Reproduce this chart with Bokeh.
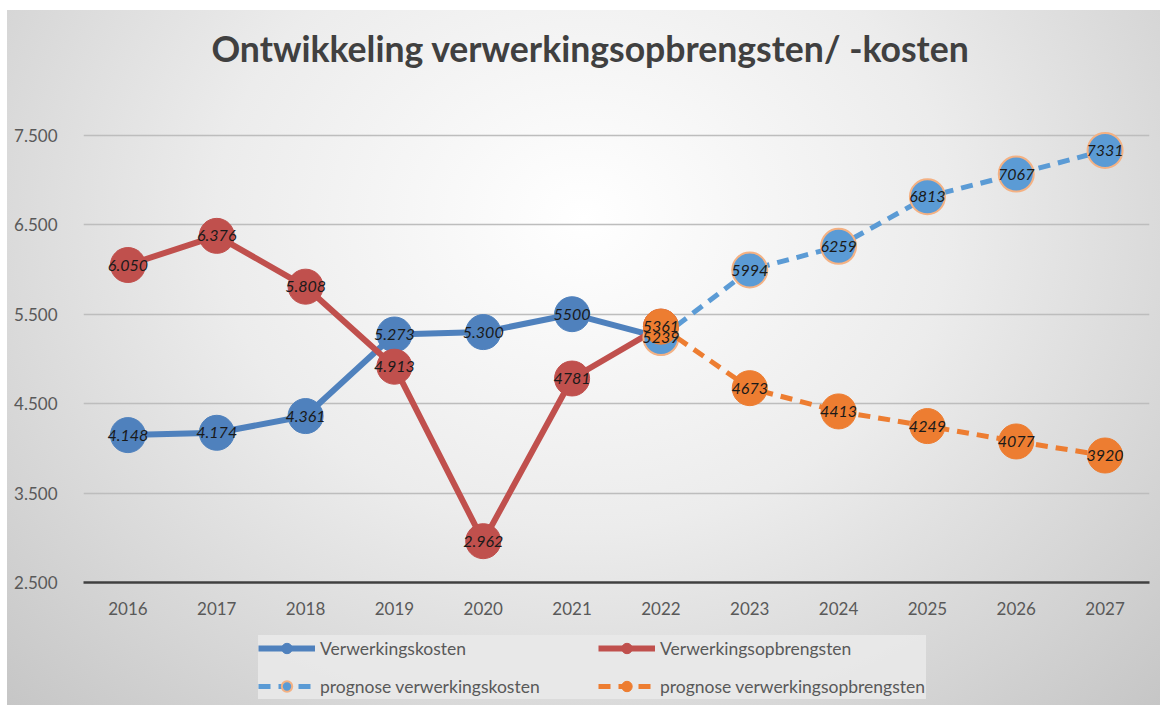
from bokeh.plotting import figure
from bokeh.layouts import column
from bokeh.models import (ColumnDataSource, FactorRange, Range1d, FixedTicker, Legend,
                          LegendItem, Label)
from bokeh.embed import file_html
from bokeh.resources import INLINE
from bokeh.core.properties import value

title_text = "Ontwikkeling verwerkingsopbrengsten/ -kosten"
years = ["2016", "2017", "2018", "2019", "2020", "2021", "2022", "2023", "2024", "2025", "2026", "2027"]

kosten_years = ["2016", "2017", "2018", "2019", "2020", "2021", "2022"]
kosten = [4148, 4174, 4361, 5273, 5300, 5500, 5239]
kosten_labels = ["4.148", "4.174", "4.361", "5.273", "5.300", "5500", ""]

opbr_years = ["2016", "2017", "2018", "2019", "2020", "2021", "2022"]
opbr = [6050, 6376, 5808, 4913, 2962, 4781, 5361]
opbr_labels = ["6.050", "6.376", "5.808", "4.913", "2.962", "4781", ""]

prog_years = ["2022", "2023", "2024", "2025", "2026", "2027"]
prog_kosten = [5239, 5994, 6259, 6813, 7067, 7331]
prog_kosten_labels = ["5239", "5994", "6259", "6813", "7067", "7331"]
prog_opbr = [5361, 4673, 4413, 4249, 4077, 3920]
prog_opbr_labels = ["5361", "4673", "4413", "4249", "4077", "3920"]

y_ticks = [2500, 3500, 4500, 5500, 6500, 7500]
y_tick_labels = ["2.500", "3.500", "4.500", "5.500", "6.500", "7.500"]

series_names = ["Verwerkingskosten", "Verwerkingsopbrengsten",
                "prognose verwerkingskosten", "prognose verwerkingsopbrengsten"]

FONT = "Lato"
BLUE = "#4f81bd"
RED = "#c0504d"
PBLUE = "#5b9bd5"
ORANGE = "#ed7d31"
RING = "#f4b183"

src_k = ColumnDataSource(dict(x=kosten_years, y=kosten, label=kosten_labels))
src_o = ColumnDataSource(dict(x=opbr_years, y=opbr, label=opbr_labels))
src_pk = ColumnDataSource(dict(x=prog_years, y=prog_kosten, label=prog_kosten_labels))
src_po = ColumnDataSource(dict(x=prog_years, y=prog_opbr, label=prog_opbr_labels))

x_range = FactorRange(*years)


def add_series(fig):
    r = []
    r.append(fig.line("x", "y", source=src_k, line_color=BLUE, line_width=6))
    r.append(fig.scatter("x", "y", source=src_k, size=35, fill_color=BLUE, line_color=BLUE))
    r.append(fig.line("x", "y", source=src_o, line_color=RED, line_width=6))
    r.append(fig.scatter("x", "y", source=src_o, size=35, fill_color=RED, line_color=RED))
    r.append(fig.line("x", "y", source=src_pk, line_color=PBLUE, line_width=5, line_dash="12 8"))
    r.append(fig.scatter("x", "y", source=src_pk, size=35, fill_color=PBLUE, line_color=RING, line_width=2))
    r.append(fig.line("x", "y", source=src_po, line_color=ORANGE, line_width=5, line_dash="12 8"))
    r.append(fig.scatter("x", "y", source=src_po, size=35, fill_color=ORANGE, line_color=ORANGE))
    return r


# ---------- main chart (frame extends to the top so the title can sit inside it)
p = figure(x_range=x_range, y_range=Range1d(2500, 8896),
           width=1153, height=615, output_backend="svg", toolbar_location=None,
           min_border_left=76, min_border_right=11, min_border_top=0, min_border_bottom=43)
p.border_fill_color = None
p.background_fill_color = None
p.outline_line_color = None

p.add_layout(Label(x=507, y=534, x_units="screen", y_units="screen", text=title_text,
                   text_align="center", text_baseline="middle", text_font=FONT,
                   text_font_size="35.6px", text_font_style="bold", text_color="#404040"))

add_series(p)

for src in (src_k, src_o, src_pk, src_po):
    p.text("x", "y", text="label", source=src, text_align="center", text_baseline="middle",
           text_font=value(FONT), text_font_style="italic", text_font_size="16px",
           text_color="#1a1a1a")

p.xaxis.axis_line_color = "#404040"
p.xaxis.axis_line_width = 2.5
p.xaxis.major_tick_line_color = None
p.xaxis.minor_tick_line_color = None
p.xaxis.major_label_text_font = FONT
p.xaxis.major_label_text_font_size = "17px"
p.xaxis.major_label_text_color = "#595959"
p.xaxis.major_label_standoff = 13

p.yaxis.ticker = FixedTicker(ticks=y_ticks)
p.yaxis.major_label_overrides = {t: s for t, s in zip(y_ticks, y_tick_labels)}
p.yaxis.axis_line_color = None
p.yaxis.major_tick_line_color = None
p.yaxis.minor_tick_line_color = None
p.yaxis.major_label_text_font = FONT
p.yaxis.major_label_text_font_size = "17px"
p.yaxis.major_label_text_color = "#595959"
p.yaxis.major_label_standoff = 20

p.ygrid.ticker = FixedTicker(ticks=y_ticks)
p.ygrid.grid_line_color = "#bdbdbd"
p.ygrid.grid_line_width = 1.5
p.xgrid.grid_line_color = None

# ---------- legend strip (same series, drawn out of its tiny view; only the legend shows)
q = figure(x_range=x_range, y_range=Range1d(0, 1), width=1153, height=80,
           output_backend="svg", toolbar_location=None, min_border=0,
           x_axis_type=None, y_axis_type=None)
q.border_fill_color = None
q.background_fill_color = None
q.outline_line_color = None
q.grid.grid_line_color = None

rr = add_series(q)

items = [LegendItem(label=series_names[0], renderers=[rr[0], rr[1]]),
         LegendItem(label=series_names[1], renderers=[rr[2], rr[3]]),
         LegendItem(label=series_names[2], renderers=[rr[4], rr[5]]),
         LegendItem(label=series_names[3], renderers=[rr[6], rr[7]])]
legend = Legend(items=items, ncols=2, orientation="horizontal", location=(175, 6),
                label_text_font=FONT, label_text_font_size="17.5px", label_text_color="#595959",
                glyph_width=57, glyph_height=26, label_height=20, label_standoff=5,
                spacing=12, padding=3, margin=0, label_width=266,
                border_line_color=None, background_fill_color="#e9e9e9", background_fill_alpha=0.9)
q.add_layout(legend, "center")

lay = column(p, q, spacing=0,
             styles={"margin-left": "7px", "margin-top": "10px",
                     "background": "radial-gradient(ellipse at 50% 30%, #ffffff 0%, #ececec 45%, #c6c6c6 100%)"})

open("out.html", "w").write(file_html(lay, INLINE))
